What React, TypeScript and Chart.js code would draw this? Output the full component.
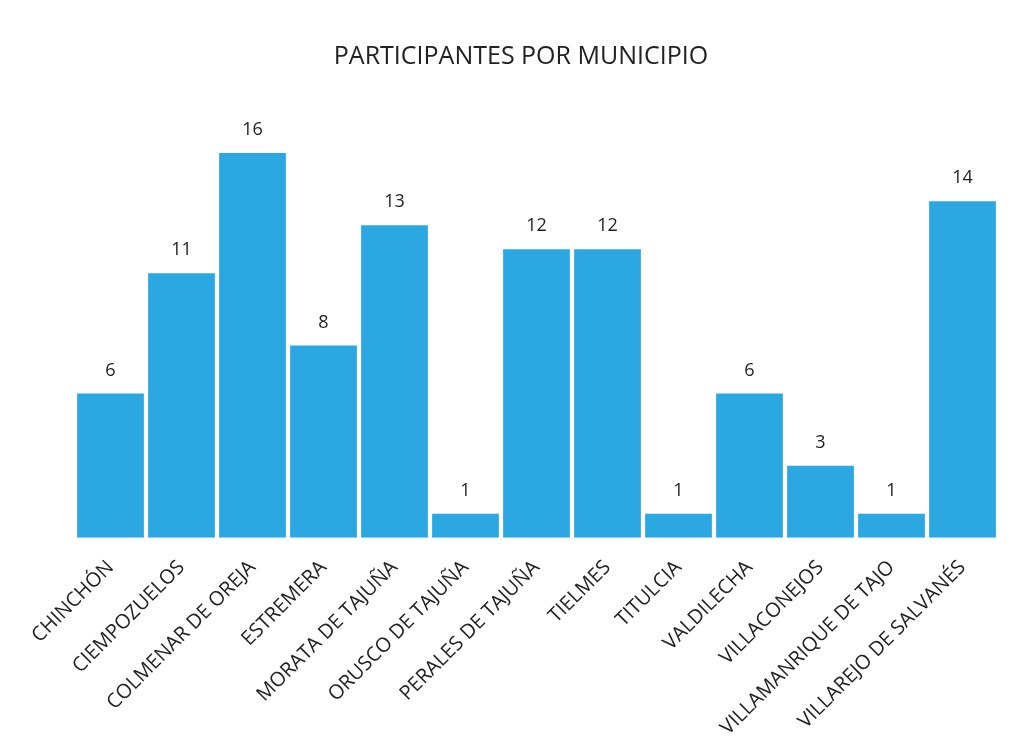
import React, { useEffect, useRef } from "react";
import { Chart, registerables } from "chart.js";

Chart.register(...registerables);

const TITLE = "PARTICIPANTES POR MUNICIPIO";
const categories = [
  "CHINCHÓN",
  "CIEMPOZUELOS",
  "COLMENAR DE OREJA",
  "ESTREMERA",
  "MORATA DE TAJUÑA",
  "ORUSCO DE TAJUÑA",
  "PERALES DE TAJUÑA",
  "TIELMES",
  "TITULCIA",
  "VALDILECHA",
  "VILLACONEJOS",
  "VILLAMANRIQUE DE TAJO",
  "VILLAREJO DE SALVANÉS",
];
const participants = [6, 11, 16, 8, 13, 1, 12, 12, 1, 6, 3, 1, 14];

const FONT = "'Open Sans', 'Liberation Sans', sans-serif";

const labelPlugin = {
  id: "valueLabels",
  afterDatasetsDraw(chart: any) {
    const ctx = chart.ctx;
    const meta = chart.getDatasetMeta(0);
    ctx.save();
    ctx.fillStyle = "#222";
    ctx.font = `18px ${FONT}`;
    ctx.textAlign = "center";
    ctx.textBaseline = "bottom";
    meta.data.forEach((bar: any, i: number) => {
      ctx.fillText(String(participants[i]), bar.x, bar.y - 14);
    });
    ctx.restore();
  },
};

const titlePlugin = {
  id: "customTitle",
  afterDraw(chart: any) {
    const ctx = chart.ctx;
    ctx.save();
    ctx.fillStyle = "#222";
    ctx.font = `25px ${FONT}`;
    ctx.textAlign = "center";
    ctx.textBaseline = "middle";
    ctx.fillText(TITLE, 521, 57);
    ctx.restore();
  },
};

export default function App() {
  const ref = useRef<HTMLCanvasElement>(null);
  useEffect(() => {
    document.body.style.margin = "0";
    const chart = new Chart(ref.current!, {
      type: "bar",
      data: {
        labels: categories,
        datasets: [
          {
            data: participants,
            backgroundColor: "#2ba8e2",
            borderWidth: 0,
            barPercentage: 0.94,
            categoryPercentage: 1,
          },
        ],
      },
      options: {
        animation: false,
        responsive: false,
        maintainAspectRatio: false,
        layout: { padding: { left: 75, right: 15, top: 117, bottom: 6 } },
        plugins: {
          legend: { display: false },
          title: { display: false },
          tooltip: { enabled: false },
        },
        scales: {
          x: {
            grid: { display: false },
            border: { display: false },
            ticks: {
              minRotation: 45,
              maxRotation: 45,
              autoSkip: false,
              color: "#222",
              font: { family: FONT, size: 20 },
              padding: 10,
            },
          },
          y: {
            display: false,
            min: 0,
            max: 17.5,
          },
        },
      },
      plugins: [labelPlugin, titlePlugin],
    });
    return () => chart.destroy();
  }, []);
  return (
    <div style={{ width: 1013, height: 756, background: "#fff" }}>
      <canvas ref={ref} width={1013} height={756} />
    </div>
  );
}
